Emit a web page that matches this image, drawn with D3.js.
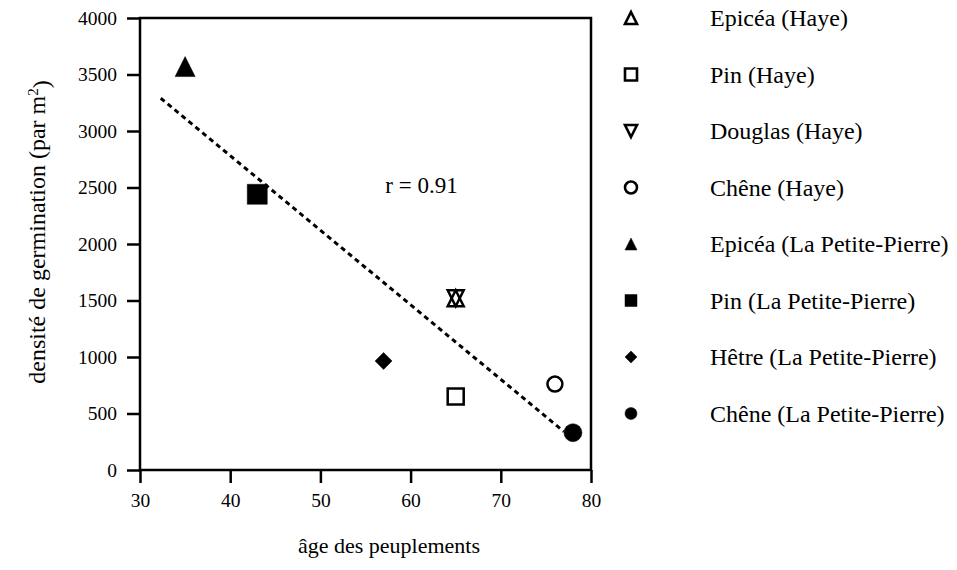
<!DOCTYPE html>
<html>
<head>
<meta charset="utf-8">
<script src="https://cdn.jsdelivr.net/npm/d3@7"></script>
<style>
  body { margin: 0; background: #fff; }
</style>
</head>
<body>
<div id="chart"></div>
<script>
// data
var species = ["Epicéa (Haye)", "Pin (Haye)", "Douglas (Haye)", "Chêne (Haye)",
               "Epicéa (La Petite-Pierre)", "Pin (La Petite-Pierre)",
               "Hêtre (La Petite-Pierre)", "Chêne (La Petite-Pierre)"];
var ages      = [65, 65, 65, 76, 35, 43, 57, 78];
var densities = [1520, 650, 1520, 760, 3570, 2440, 965, 330];
var shapes    = ["up", "square", "down", "circle", "up", "square", "diamond", "circle"];
var filled    = [false, false, false, false, true, true, true, true];

// regression line ends
var fitAge     = [32.3, 77];
var fitDensity = [3290, 340];

var xTicks = [30, 40, 50, 60, 70, 80];
var yTicks = [0, 500, 1000, 1500, 2000, 2500, 3000, 3500, 4000];

var width = 957, height = 570;
var font = "'Liberation Serif', 'Times New Roman', serif";

var x = d3.scaleLinear().domain([30, 80]).range([140, 591]);
var y = d3.scaleLinear().domain([0, 4000]).range([470, 18]);

var svg = d3.select("#chart").append("svg")
    .attr("width", width)
    .attr("height", height)
    .style("font-family", font);

// symbol path centred on 0,0 with box size s
function shapePath(type, s) {
  var h = s / 2;
  if (type == "up") return "M0," + (-h) + "L" + h + "," + h + "L" + (-h) + "," + h + "Z";
  if (type == "down") return "M0," + h + "L" + h + "," + (-h) + "L" + (-h) + "," + (-h) + "Z";
  if (type == "square") return "M" + (-h) + "," + (-h) + "h" + s + "v" + s + "h" + (-s) + "Z";
  if (type == "diamond") return "M0," + (-h) + "L" + h + ",0L0," + h + "L" + (-h) + ",0Z";
  // circle
  return "M" + (-h) + ",0a" + h + "," + h + " 0 1,0 " + s + ",0a" + h + "," + h + " 0 1,0 " + (-s) + ",0Z";
}

var points = species.map(function(name, i) {
  return {name: name, age: ages[i], density: densities[i], shape: shapes[i], filled: filled[i]};
});

// axes
var xAxis = d3.axisBottom(x).tickValues(xTicks).tickFormat(d3.format("d"))
    .tickSize(13).tickSizeOuter(0).tickPadding(10);
var yAxis = d3.axisLeft(y).tickValues(yTicks).tickFormat(d3.format("d"))
    .tickSize(13).tickSizeOuter(0).tickPadding(10);

var gx = svg.append("g")
    .attr("transform", "translate(0," + y(0) + ")")
    .call(xAxis);
var gy = svg.append("g")
    .attr("transform", "translate(" + x(30) + ",0)")
    .call(yAxis);

[gx, gy].forEach(function(g) {
  g.attr("font-family", null).attr("font-size", null);
  g.select(".domain").remove();
  g.selectAll(".tick line").attr("stroke", "#000").attr("stroke-width", 2.5);
  g.selectAll(".tick text")
      .style("font-family", font)
      .style("font-size", "19.5px")
      .attr("fill", "#000");
});

// frame
svg.append("rect")
    .attr("x", x(30))
    .attr("y", y(4000))
    .attr("width", x(80) - x(30))
    .attr("height", y(0) - y(4000))
    .attr("fill", "none")
    .attr("stroke", "#000")
    .attr("stroke-width", 2.5);

// regression line
var line = d3.line()
    .x(function(d) { return x(d[0]); })
    .y(function(d) { return y(d[1]); });

svg.append("path")
    .datum(fitAge.map(function(a, i) { return [a, fitDensity[i]]; }))
    .attr("d", line)
    .attr("fill", "none")
    .attr("stroke", "#000")
    .attr("stroke-width", 3)
    .attr("stroke-dasharray", "5,4");

svg.append("text")
    .attr("x", x(57.2))
    .attr("y", y(2455))
    .style("font-family", font)
    .style("font-size", "23px")
    .text("r = 0.91");

// points
svg.selectAll(".pt")
    .data(points)
    .enter().append("path")
    .attr("class", "pt")
    .attr("transform", function(d) { return "translate(" + x(d.age) + "," + y(d.density) + ")"; })
    .attr("d", function(d) {
      var s = d.shape == "circle" ? (d.filled ? 18 : 15) : (d.shape == "diamond" ? 17 : (d.filled ? 20 : 16));
      return shapePath(d.shape, s);
    })
    .attr("fill", function(d) { return d.filled ? "#000" : "none"; })
    .attr("stroke", "#000")
    .attr("stroke-width", function(d) { return d.filled ? 0.5 : 2.5; });

// legend
var legend = svg.selectAll(".legend")
    .data(points)
    .enter().append("g")
    .attr("class", "legend")
    .attr("transform", function(d, i) { return "translate(631," + y(4000 - i * 500) + ")"; });

legend.append("path")
    .attr("d", function(d) { return shapePath(d.shape, 12); })
    .attr("fill", function(d) { return d.filled ? "#000" : "none"; })
    .attr("stroke", "#000")
    .attr("stroke-width", function(d) { return d.filled ? 0.5 : 2.6; });

legend.append("text")
    .attr("x", 79)
    .attr("dy", "0.35em")
    .style("font-family", font)
    .style("font-size", "24px")
    .text(function(d) { return d.name; });

// axis titles
svg.append("text")
    .attr("x", 389)
    .attr("y", 553)
    .attr("text-anchor", "middle")
    .style("font-family", font)
    .style("font-size", "22px")
    .text("âge des peuplements");

var yt = svg.append("text")
    .attr("transform", "translate(45,232) rotate(-90)")
    .attr("text-anchor", "middle")
    .style("font-family", font)
    .style("font-size", "24px");
yt.append("tspan").text("densité de germination (par m");
yt.append("tspan").attr("dy", "-0.45em").style("font-size", "15px").text("2");
yt.append("tspan").attr("dy", "0.45em").text(")");
</script>
</body>
</html>
